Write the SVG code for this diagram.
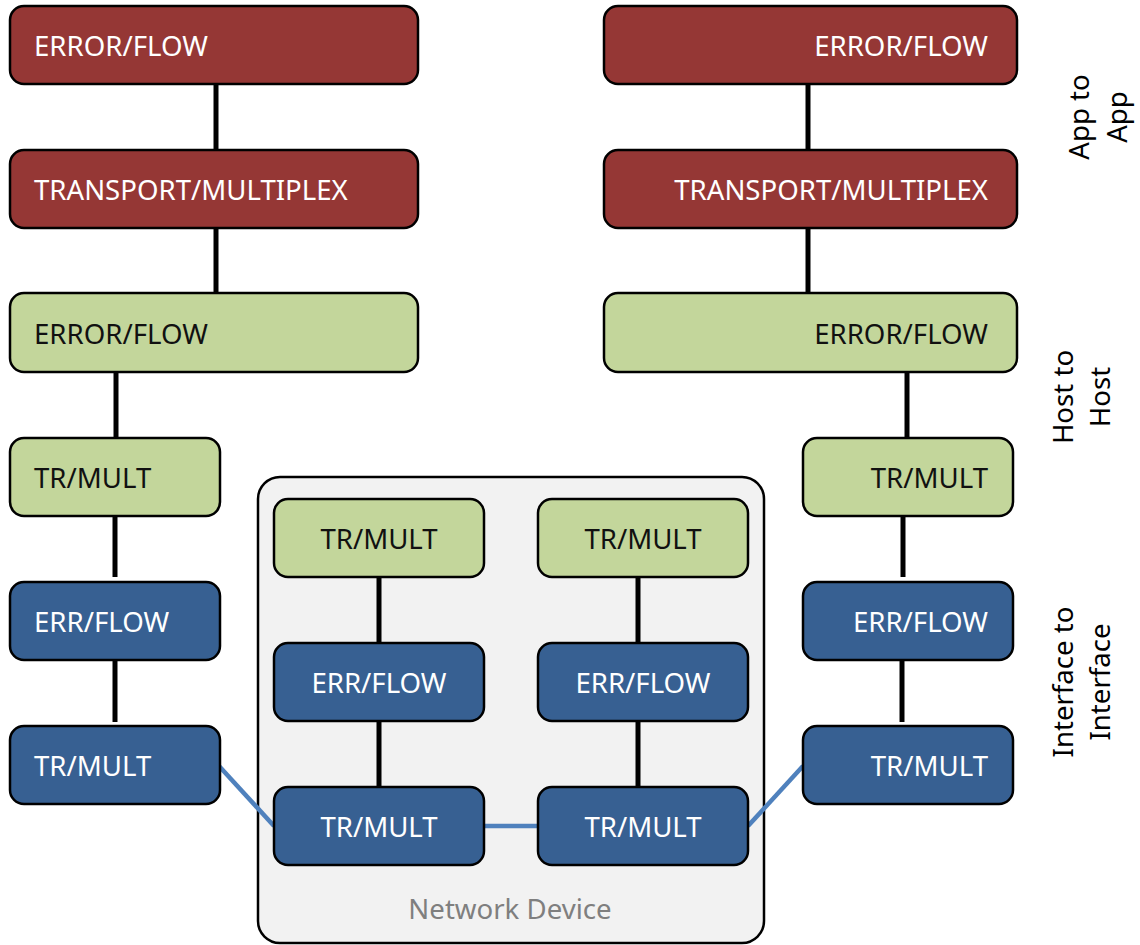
<svg xmlns="http://www.w3.org/2000/svg" width="1140" height="945" viewBox="0 0 1140 945">
  <style>
    .box { stroke: #000; stroke-width: 2.5; }
    .red { fill: #953735; }
    .green { fill: #c3d69b; }
    .blue { fill: #376092; }
    .lbl { font-family: "Noto Sans", "Open Sans", sans-serif; font-size: 27.6px; }
    .light { fill: #ffffff; }
    .dark { fill: #111111; }
    .link { stroke: #000; stroke-width: 5; fill: none; }
    .wire { stroke: #4f81bd; stroke-width: 4.5; fill: none; }
    .side { font-family: "Noto Sans", "Open Sans", sans-serif; font-size: 27.6px; fill: #000; text-anchor: middle; }
  </style>

  <rect width="1140" height="945" fill="#ffffff"/>

  <!-- network device container -->
  <g id="network-device">
    <rect x="258" y="477" width="506" height="466" rx="22" fill="#f2f2f2" stroke="#000" stroke-width="2.5"/>
    <text x="510" y="919" class="lbl" fill="#7f7f7f" text-anchor="middle">Network Device</text>
  </g>

  <!-- connectors -->
  <g id="connectors">
    <line class="link" x1="216" y1="84" x2="216" y2="150"/>
    <line class="link" x1="216" y1="228" x2="216" y2="293"/>
    <line class="link" x1="116" y1="372" x2="116" y2="438"/>
    <line class="link" x1="115" y1="513" x2="115" y2="577"/>
    <line class="link" x1="115" y1="658" x2="115" y2="722"/>

    <line class="link" x1="808" y1="84" x2="808" y2="150"/>
    <line class="link" x1="808" y1="228" x2="808" y2="293"/>
    <line class="link" x1="907" y1="372" x2="907" y2="438"/>
    <line class="link" x1="903" y1="513" x2="903" y2="577"/>
    <line class="link" x1="902" y1="658" x2="902" y2="722"/>

    <line class="link" x1="379" y1="577" x2="379" y2="643"/>
    <line class="link" x1="379" y1="721" x2="379" y2="787"/>
    <line class="link" x1="638" y1="577" x2="638" y2="643"/>
    <line class="link" x1="638" y1="721" x2="638" y2="787"/>

    <line class="wire" x1="219" y1="766" x2="274" y2="826"/>
    <line class="wire" x1="484" y1="826" x2="538" y2="826"/>
    <line class="wire" x1="748" y1="826" x2="803" y2="766"/>
  </g>

  <!-- left host stack -->
  <g id="left-app-error">
    <rect class="box red" x="10" y="6" width="408" height="78" rx="14"/>
    <text class="lbl light" x="34" y="56">ERROR/FLOW</text>
  </g>
  <g id="left-app-transport">
    <rect class="box red" x="10" y="150" width="408" height="78" rx="14"/>
    <text class="lbl light" x="34" y="200">TRANSPORT/MULTIPLEX</text>
  </g>
  <g id="left-host-error">
    <rect class="box green" x="10" y="293" width="408" height="79" rx="14"/>
    <text class="lbl dark" x="34" y="344">ERROR/FLOW</text>
  </g>
  <g id="left-host-trmult">
    <rect class="box green" x="10" y="438" width="210" height="78" rx="14"/>
    <text class="lbl dark" x="34" y="488">TR/MULT</text>
  </g>
  <g id="left-if-errflow">
    <rect class="box blue" x="10" y="582" width="210" height="78" rx="14"/>
    <text class="lbl light" x="34" y="632">ERR/FLOW</text>
  </g>
  <g id="left-if-trmult">
    <rect class="box blue" x="10" y="726" width="210" height="78" rx="14"/>
    <text class="lbl light" x="34" y="776">TR/MULT</text>
  </g>

  <!-- right host stack -->
  <g id="right-app-error">
    <rect class="box red" x="604" y="6" width="413" height="78" rx="14"/>
    <text class="lbl light" x="988" y="56" text-anchor="end">ERROR/FLOW</text>
  </g>
  <g id="right-app-transport">
    <rect class="box red" x="604" y="150" width="413" height="78" rx="14"/>
    <text class="lbl light" x="988" y="200" text-anchor="end">TRANSPORT/MULTIPLEX</text>
  </g>
  <g id="right-host-error">
    <rect class="box green" x="604" y="293" width="413" height="79" rx="14"/>
    <text class="lbl dark" x="988" y="344" text-anchor="end">ERROR/FLOW</text>
  </g>
  <g id="right-host-trmult">
    <rect class="box green" x="803" y="438" width="210" height="78" rx="14"/>
    <text class="lbl dark" x="988" y="488" text-anchor="end">TR/MULT</text>
  </g>
  <g id="right-if-errflow">
    <rect class="box blue" x="803" y="582" width="210" height="78" rx="14"/>
    <text class="lbl light" x="988" y="632" text-anchor="end">ERR/FLOW</text>
  </g>
  <g id="right-if-trmult">
    <rect class="box blue" x="803" y="726" width="210" height="78" rx="14"/>
    <text class="lbl light" x="988" y="776" text-anchor="end">TR/MULT</text>
  </g>

  <!-- network device layers -->
  <g id="nd-a-host-trmult">
    <rect class="box green" x="274" y="499" width="210" height="78" rx="14"/>
    <text class="lbl dark" x="379" y="549" text-anchor="middle">TR/MULT</text>
  </g>
  <g id="nd-a-errflow">
    <rect class="box blue" x="274" y="643" width="210" height="78" rx="14"/>
    <text class="lbl light" x="379" y="693" text-anchor="middle">ERR/FLOW</text>
  </g>
  <g id="nd-a-trmult">
    <rect class="box blue" x="274" y="787" width="210" height="78" rx="14"/>
    <text class="lbl light" x="379" y="837" text-anchor="middle">TR/MULT</text>
  </g>
  <g id="nd-b-host-trmult">
    <rect class="box green" x="538" y="499" width="210" height="78" rx="14"/>
    <text class="lbl dark" x="643" y="549" text-anchor="middle">TR/MULT</text>
  </g>
  <g id="nd-b-errflow">
    <rect class="box blue" x="538" y="643" width="210" height="78" rx="14"/>
    <text class="lbl light" x="643" y="693" text-anchor="middle">ERR/FLOW</text>
  </g>
  <g id="nd-b-trmult">
    <rect class="box blue" x="538" y="787" width="210" height="78" rx="14"/>
    <text class="lbl light" x="643" y="837" text-anchor="middle">TR/MULT</text>
  </g>

  <!-- layer scope labels -->
  <g id="label-app">
    <text class="side" transform="translate(1089,117) rotate(-90)"><tspan x="0" dy="0">App to</tspan><tspan x="0" dy="38">App</tspan></text>
  </g>
  <g id="label-host">
    <text class="side" transform="translate(1073,397) rotate(-90)"><tspan x="0" dy="0">Host to</tspan><tspan x="0" dy="37">Host</tspan></text>
  </g>
  <g id="label-interface">
    <text class="side" transform="translate(1073,682) rotate(-90)"><tspan x="0" dy="0">Interface to</tspan><tspan x="0" dy="37">Interface</tspan></text>
  </g>
</svg>
